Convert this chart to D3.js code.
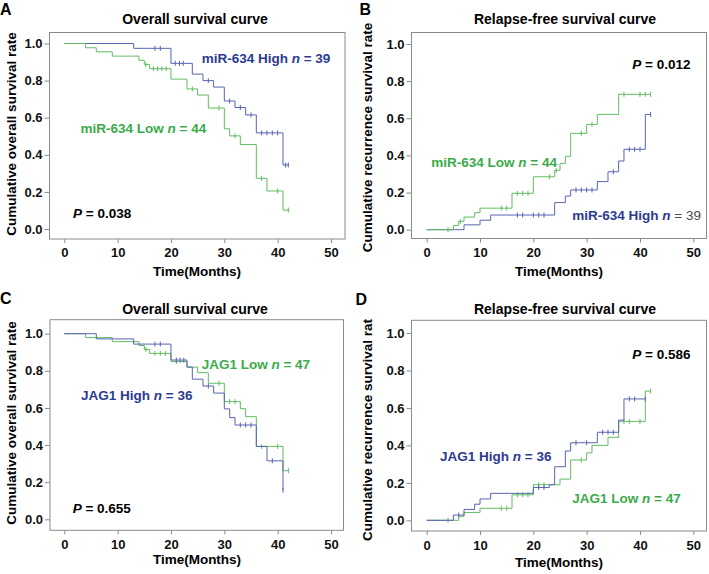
<!DOCTYPE html>
<html><head><meta charset="utf-8">
<script src="https://cdn.jsdelivr.net/npm/d3@7"></script>
<style>
body{margin:0;background:#fff;}
svg{display:block;font-family:"Liberation Sans",Arial,Helvetica,sans-serif;}
</style></head><body>
<svg id="chart" width="709" height="574"></svg>
<script>
// ---------------- data ----------------
const monthTicks = [0, 10, 20, 30, 40, 50];
const rateTicks = [0, 0.2, 0.4, 0.6, 0.8, 1.0];

// Panel A: overall survival, miR-634
const aHighTimes = [13, 20, 24, 26, 28, 30, 32, 34, 36, 41];
const aHighRates = [0.974, 0.893, 0.835, 0.80, 0.765, 0.69, 0.655, 0.615, 0.518, 0.345];
const aHighCensor = [17, 18, 20.8, 21.6, 22.3, 27, 31, 33, 35, 37, 38, 39, 40, 41.5, 42];
const aLowTimes = [4, 6, 9, 14, 15, 16, 20, 23, 25, 27, 30, 31, 33, 36, 38, 41];
const aLowRates = [0.977, 0.955, 0.932, 0.909, 0.886, 0.864, 0.808, 0.755, 0.722, 0.652, 0.54, 0.502, 0.455, 0.273, 0.205, 0.102];
const aLowCensor = [15.3, 16.7, 17.5, 18.3, 19.1, 24, 29, 32, 37, 40, 42];

// Panel B: relapse (cumulative recurrence), miR-634
const bHighTimes = [7, 10, 12, 24, 26, 27, 32, 34, 36, 37, 41];
const bHighRates = [0.026, 0.051, 0.079, 0.146, 0.181, 0.214, 0.259, 0.312, 0.37, 0.433, 0.621];
const bHighCensor = [17, 18, 20, 21, 22, 28, 29, 30, 31, 35, 38, 39, 40, 42];
const bLowTimes = [5, 6, 7, 9, 10, 16, 20, 24, 25, 26, 27, 30, 32, 36];
const bLowRates = [0.023, 0.045, 0.068, 0.092, 0.116, 0.196, 0.285, 0.32, 0.357, 0.395, 0.519, 0.567, 0.621, 0.729];
const bLowCensor = [4, 6.3, 14, 15, 17, 18, 19, 23, 24.3, 29, 31, 37, 40, 41, 42];

// Panel C: overall survival, JAG1
const cHighTimes = [6, 13, 20, 23, 24, 26, 28, 30, 31, 32, 36, 38, 41];
const cHighRates = [0.972, 0.944, 0.858, 0.82, 0.755, 0.718, 0.68, 0.595, 0.548, 0.508, 0.392, 0.315, 0.157];
const cHighCensor = [17, 18, 21, 21.7, 22.4, 27, 33, 34, 35, 39, 41];
const cLowTimes = [4, 9, 14, 15, 16, 20, 23, 25, 27, 30, 33, 34, 36, 41];
const cLowRates = [0.979, 0.957, 0.936, 0.915, 0.894, 0.85, 0.82, 0.79, 0.733, 0.634, 0.596, 0.553, 0.393, 0.262];
const cLowCensor = [15.3, 17, 18, 19, 21, 29, 31, 32, 37, 40, 42];

// Panel D: relapse (cumulative recurrence), JAG1
const dHighTimes = [5, 7, 9, 10, 12, 20, 23, 24, 26, 27, 32, 36, 37];
const dHighRates = [0.028, 0.058, 0.086, 0.114, 0.144, 0.175, 0.19, 0.286, 0.37, 0.414, 0.47, 0.535, 0.648];
const dHighCensor = [6, 21, 22, 28, 30, 33, 34, 35, 38, 39, 41];
const dLowTimes = [6, 7, 10, 16, 20, 25, 27, 30, 31, 34, 36, 41];
const dLowRates = [0.021, 0.042, 0.064, 0.136, 0.19, 0.22, 0.322, 0.36, 0.40, 0.443, 0.528, 0.69];
const dLowCensor = [4, 14, 15, 17, 18, 19, 21, 22, 29, 37, 38, 40, 42];

// ---------------- styles ----------------
const BLUE_LINE = "#5864b0", GREEN_LINE = "#62bb62";
const BLUE_TEXT = "#2c3a90", GREEN_TEXT = "#3bab4a";
const FRAME = "#8a8a8a";

const svg = d3.select("#chart");

const panels = [
  { letter: "A", lx: 0, ly: 14.5, title: "Overall survival curve", tx: 195, ty: 24,
    frame: [49.5, 32.5, 345, 239], xr: [64.3, 331], yr: [229, 43.5],
    ylab: "Cumulative overall survival rate", ylx: 11, yly: 134, xlx: 197, xly: 276,
    xtickBase: 256.5,
    curves: [
      { start: 1, t: aHighTimes, r: aHighRates, c: aHighCensor, end: 42, color: BLUE_LINE },
      { start: 1, t: aLowTimes, r: aLowRates, c: aLowCensor, end: 42, color: GREEN_LINE }],
    notes: [
      { x: 201.7, y: 62.5, parts: [["miR-634 High ", BLUE_TEXT], ["n", BLUE_TEXT, true], [" = 39", BLUE_TEXT]] },
      { x: 80.5, y: 133, parts: [["miR-634 Low ", GREEN_TEXT], ["n", GREEN_TEXT, true], [" = 44", GREEN_TEXT]] },
      { x: 73, y: 218, parts: [["P", "#000", true], [" = 0.038", "#000"]] }] },
  { letter: "B", lx: 359.5, ly: 14.5, title: "Relapse-free survival curve", tx: 565, ty: 24,
    frame: [411.5, 32.5, 706.5, 238.5], xr: [426.7, 693.3], yr: [229.7, 44],
    ylab: "Cumulative recurrence survival rate", ylx: 367.3, yly: 137.5, xlx: 559, xly: 276,
    xtickBase: 256.5,
    curves: [
      { start: 0, t: bHighTimes, r: bHighRates, c: bHighCensor, end: 42, color: BLUE_LINE },
      { start: 0, t: bLowTimes, r: bLowRates, c: bLowCensor, end: 42, color: GREEN_LINE }],
    notes: [
      { x: 632.3, y: 69, parts: [["P", "#000", true], [" = 0.012", "#000"]] },
      { x: 431.3, y: 167, parts: [["miR-634 Low ", GREEN_TEXT], ["n", GREEN_TEXT, true], [" = 44", GREEN_TEXT]] },
      { x: 572.3, y: 220, parts: [["miR-634 High ", BLUE_TEXT], ["n", BLUE_TEXT, true], [" = 39", "#4a4a4a", false, true]] }] },
  { letter: "C", lx: 0, ly: 304, title: "Overall survival curve", tx: 195, ty: 313.7,
    frame: [50, 319.7, 343.5, 530.3], xr: [64.3, 331], yr: [519.3, 333.7],
    ylab: "Cumulative overall survival rate", ylx: 11, yly: 423, xlx: 197, xly: 564,
    xtickBase: 548.7,
    curves: [
      { start: 1, t: cLowTimes, r: cLowRates, c: cLowCensor, end: 42, color: GREEN_LINE },
      { start: 1, t: cHighTimes, r: cHighRates, c: cHighCensor, end: 41, color: BLUE_LINE }],
    notes: [
      { x: 201.7, y: 369, parts: [["JAG1 Low ", GREEN_TEXT], ["n", GREEN_TEXT, true], [" = 47", GREEN_TEXT]] },
      { x: 81, y: 399.5, parts: [["JAG1 High ", BLUE_TEXT], ["n", BLUE_TEXT, true], [" = 36", BLUE_TEXT]] },
      { x: 72.7, y: 513, parts: [["P", "#000", true], [" = 0.655", "#000"]] }] },
  { letter: "D", lx: 355.5, ly: 305, title: "Relapse-free survival curve", tx: 565, ty: 313.7,
    frame: [411.5, 320.3, 706.5, 531], xr: [426.7, 693.3], yr: [520.3, 333],
    ylab: "Cumulative recurrence survival rat", ylx: 367.3, yly: 430, xlx: 559, xly: 567,
    xtickBase: 550.3,
    curves: [
      { start: 0, t: dLowTimes, r: dLowRates, c: dLowCensor, end: 42, color: GREEN_LINE },
      { start: 0, t: dHighTimes, r: dHighRates, c: dHighCensor, end: 41, color: BLUE_LINE }],
    notes: [
      { x: 632.3, y: 359, parts: [["P", "#000", true], [" = 0.586", "#000"]] },
      { x: 440, y: 460.5, parts: [["JAG1 High ", BLUE_TEXT], ["n", BLUE_TEXT, true], [" = 36", BLUE_TEXT]] },
      { x: 572.3, y: 503, parts: [["JAG1 Low ", GREEN_TEXT], ["n", GREEN_TEXT, true], [" = 47", GREEN_TEXT]] }] }
];

panels.forEach(p => {
  const g = svg.append("g");
  const [L, T, R, B] = p.frame;
  const x = d3.scaleLinear().domain([0, 50]).range(p.xr);
  const y = d3.scaleLinear().domain([0, 1]).range(p.yr);

  // panel letter
  g.append("text").attr("x", p.lx).attr("y", p.ly)
    .attr("font-size", 16).attr("font-weight", "bold").text(p.letter);
  // title
  g.append("text").attr("x", p.tx).attr("y", p.ty).attr("text-anchor", "middle")
    .attr("font-size", 14).attr("font-weight", "bold").text(p.title);

  // frame
  g.append("rect").attr("x", L).attr("y", T).attr("width", R - L).attr("height", B - T)
    .attr("fill", "none").attr("stroke", FRAME).attr("stroke-width", 1);

  // y axis
  const ya = g.append("g").attr("transform", `translate(${L},0)`)
    .call(d3.axisLeft(y).tickValues(rateTicks).tickFormat(d3.format(".1f")).tickSize(5).tickPadding(2));
  ya.select(".domain").remove();
  ya.selectAll(".tick line").attr("stroke", FRAME);
  ya.selectAll(".tick text").attr("font-size", 13).attr("font-weight", "bold")
    .attr("font-family", null).attr("fill", "#111");

  // x axis
  const xa = g.append("g").attr("transform", `translate(0,${B})`)
    .call(d3.axisBottom(x).tickValues(monthTicks).tickFormat(d3.format("d")).tickSize(4).tickPadding(0));
  xa.select(".domain").remove();
  xa.selectAll(".tick line").attr("stroke", FRAME);
  xa.selectAll(".tick text").attr("font-size", 13).attr("font-weight", "bold")
    .attr("font-family", null).attr("fill", "#111")
    .attr("dy", null).attr("y", p.xtickBase - B);

  // axis titles
  g.append("text").attr("x", p.xlx).attr("y", p.xly).attr("text-anchor", "middle")
    .attr("font-size", 13.5).attr("font-weight", "bold").text("Time(Months)");
  g.append("text").attr("transform", `translate(${p.ylx},${p.yly}) rotate(-90)`)
    .attr("text-anchor", "middle").attr("dy", "0.35em")
    .attr("font-size", 13.5).attr("font-weight", "bold").text(p.ylab);

  // curves
  const line = d3.line().x(d => x(d[0])).y(d => y(d[1])).curve(d3.curveStepAfter);
  p.curves.forEach(cv => {
    const pts = [[0, cv.start]];
    cv.t.forEach((t, i) => pts.push([t, cv.r[i]]));
    pts.push([cv.end, cv.r[cv.r.length - 1]]);
    g.append("path").attr("d", line(pts)).attr("fill", "none")
      .attr("stroke", cv.color).attr("stroke-width", 1);
    const levelAt = tm => {
      let v = cv.start;
      cv.t.forEach((t, i) => { if (t <= tm) v = cv.r[i]; });
      return v;
    };
    g.selectAll(null).data(cv.c).enter().append("line")
      .attr("x1", d => x(d)).attr("x2", d => x(d))
      .attr("y1", d => y(levelAt(d)) - 2.5).attr("y2", d => y(levelAt(d)) + 2.5)
      .attr("stroke", cv.color).attr("stroke-width", 1);
  });

  // annotations
  p.notes.forEach(n => {
    const t = g.append("text").attr("x", n.x).attr("y", n.y)
      .attr("font-size", 13.5).attr("font-weight", "bold");
    n.parts.forEach(pt => {
      const s = t.append("tspan").attr("fill", pt[1]).text(pt[0]);
      if (pt[2]) s.attr("font-style", "italic");
      if (pt[3]) s.attr("font-weight", "normal");
    });
  });
});
</script>
</body></html>
